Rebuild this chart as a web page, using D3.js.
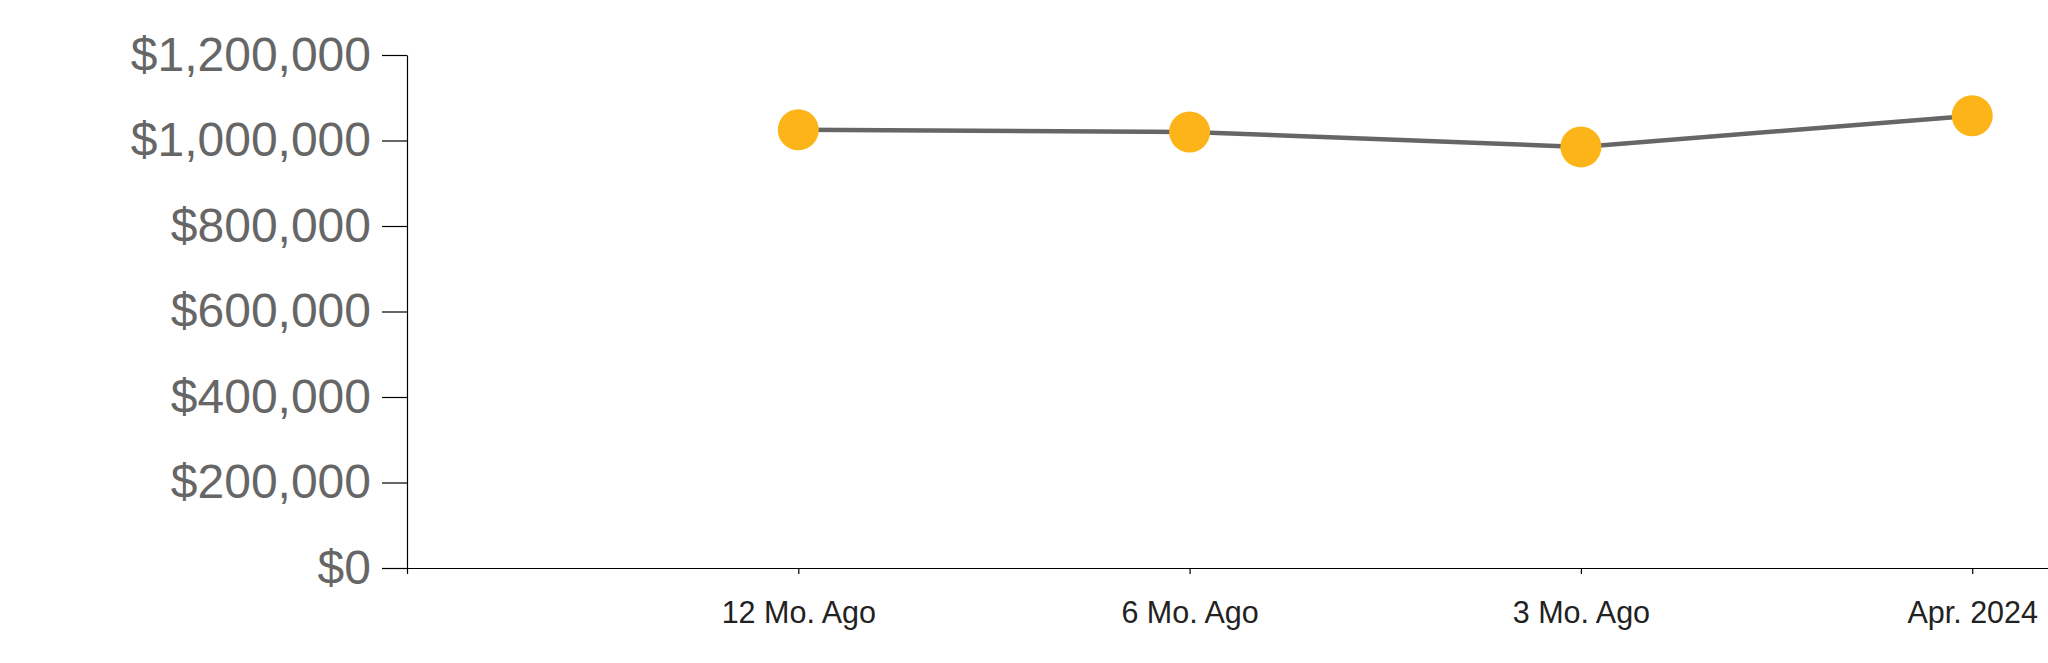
<!DOCTYPE html>
<html>
<head>
<meta charset="utf-8">
<script src="https://cdn.jsdelivr.net/npm/d3@7"></script>
<style>
  body { margin: 0; background: #fff; }
  svg { display: block; }
</style>
</head>
<body>
<svg width="2048" height="663"></svg>
<script>
const periods = ["12 Mo. Ago", "6 Mo. Ago", "3 Mo. Ago", "Apr. 2024"];
const prices = [1025000, 1020000, 985000, 1058000];
const yTicks = [0, 200000, 400000, 600000, 800000, 1000000, 1200000];

const svg = d3.select("svg");
const marginLeft = 407, plotTop = 55, plotBottom = 568;

const x = d3.scalePoint()
  .domain(periods)
  .range([marginLeft, marginLeft + 391.3 * 5])
  .padding(1);

const y = d3.scaleLinear()
  .domain([0, 1200000])
  .range([plotBottom, plotTop]);

// y axis
const yAxis = svg.append("g")
  .attr("transform", `translate(${marginLeft},0)`)
  .call(d3.axisLeft(y).tickValues(yTicks).tickSize(25).tickSizeOuter(0).tickPadding(11)
    .tickFormat(d => "$" + d3.format(",")(d)));
yAxis.selectAll("text")
  .style("font-family", "'Liberation Sans', Arial, sans-serif")
  .style("font-size", "48px")
  .attr("fill", "#666");
yAxis.selectAll("line, path").attr("stroke", "#000").attr("stroke-width", 1.2);

// x axis
const xAxis = svg.append("g")
  .attr("transform", `translate(0,${plotBottom})`)
  .call(d3.axisBottom(x).tickSize(6).tickPadding(27));
xAxis.selectAll("text")
  .style("font-family", "'Liberation Sans', Arial, sans-serif")
  .style("font-size", "30.5px")
  .attr("fill", "#222");
xAxis.selectAll("line, path").attr("stroke", "#000").attr("stroke-width", 1.2);

// line
const line = d3.line()
  .x((d, i) => x(periods[i]))
  .y(d => y(d));

svg.append("path")
  .datum(prices)
  .attr("d", line)
  .attr("fill", "none")
  .attr("stroke", "#666")
  .attr("stroke-width", 4.5);

// points
svg.append("g")
  .selectAll("circle")
  .data(prices)
  .enter()
  .append("circle")
  .attr("cx", (d, i) => x(periods[i]))
  .attr("cy", d => y(d))
  .attr("r", 20.5)
  .attr("fill", "#fcb419");
</script>
</body>
</html>
